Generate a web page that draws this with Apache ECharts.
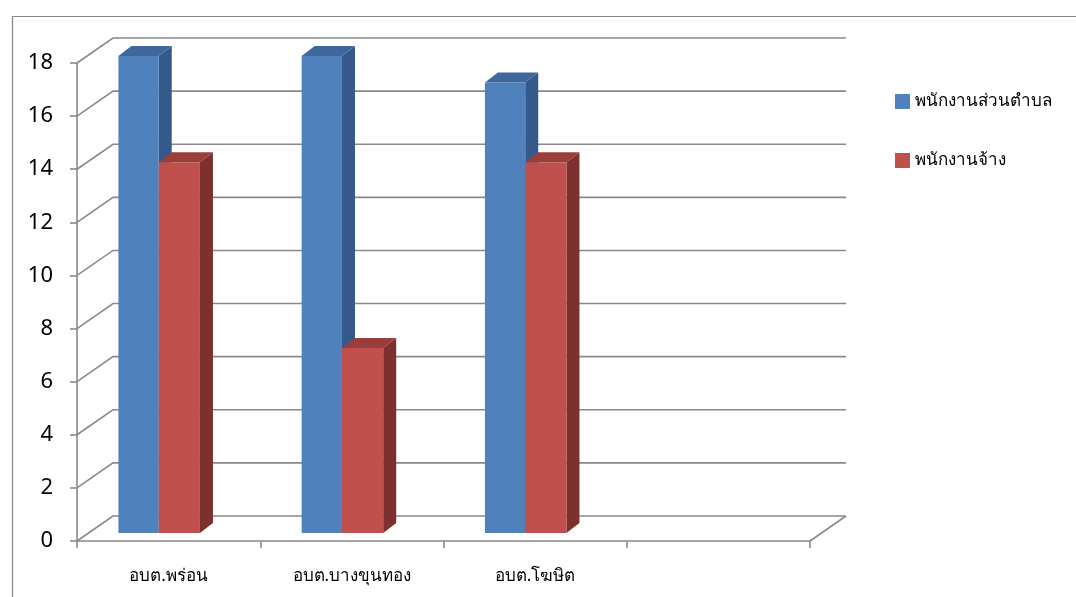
<!DOCTYPE html>
<html>
<head>
<meta charset="utf-8">
<script src="https://cdn.jsdelivr.net/npm/echarts@6/dist/echarts.min.js"></script>
<style>html,body{margin:0;padding:0;background:#fff;}#c{width:1076px;height:597px;}</style>
</head>
<body>
<div id="c"></div>
<script>
var categories = ['อบต.พร่อน', 'อบต.บางขุนทอง', 'อบต.โฆษิต', ''];
var seriesNames = ['พนักงานส่วนตำบล', 'พนักงานจ้าง'];
var staffValues = [18, 18, 17];
var contractValues = [14, 7, 14];
var yTicks = [0, 2, 4, 6, 8, 10, 12, 14, 16, 18];

var GRID = '#898989';
var DEPTH_X = 36, DEPTH_Y = -25;   // floor/back-wall offset
var BAR_SHIFT_Y = -8;              // bars sit slightly behind front plane
var BAR_DX = 13, BAR_DY = -10;     // bar depth
var FONT = '"Noto Sans", "DejaVu Sans", sans-serif';

var chart = echarts.init(document.getElementById('c'), null, {renderer: 'canvas'});

function gridItem(params, api) {
  var v = api.value(0);
  var p = api.coord([0, v]);
  var bw = api.size([1, 0])[0];
  var L = p[0] - bw / 2;
  var R = api.coord([categories.length - 1, v])[0] + bw / 2;
  var y = p[1];
  var children = [{
    type: 'polyline',
    shape: {points: [[L, y], [L + DEPTH_X, y + DEPTH_Y], [R + DEPTH_X, y + DEPTH_Y]]},
    style: {stroke: GRID, lineWidth: 1.6, fill: null}
  }];
  if (v === 0) {
    children.push({
      type: 'line',
      shape: {x1: R, y1: y, x2: R + DEPTH_X, y2: y + DEPTH_Y},
      style: {stroke: GRID, lineWidth: 1.6}
    });
  }
  return {type: 'group', children: children};
}

function barRenderer(f0, f1, front, top, side) {
  return function (params, api) {
    var idx = api.value(0);
    var v = api.value(1);
    var base = api.coord([idx, 0]);
    var pv = api.coord([idx, v]);
    var bw = api.size([1, 0])[0];
    var x0 = base[0] + f0 * bw;
    var x1 = base[0] + f1 * bw;
    var bottom = base[1] + BAR_SHIFT_Y;
    var tp = pv[1] + BAR_SHIFT_Y + 1;
    return {
      type: 'group',
      children: [
        {type: 'polygon', shape: {points: [[x1, tp], [x1 + BAR_DX, tp + BAR_DY], [x1 + BAR_DX, bottom + BAR_DY], [x1, bottom]]}, style: {fill: side}},
        {type: 'polygon', shape: {points: [[x0, tp], [x0 + BAR_DX, tp + BAR_DY], [x1 + BAR_DX, tp + BAR_DY], [x1, tp]]}, style: {fill: top}},
        {type: 'rect', shape: {x: x0, y: tp, width: x1 - x0, height: bottom - tp}, style: {fill: front}}
      ]
    };
  };
}

chart.setOption({
  animation: false,
  graphic: [{
    type: 'rect', left: 10, top: 14, z: -10,
    shape: {width: 1100, height: 620},
    style: {fill: null, stroke: '#878787', lineWidth: 1.2}
  }],
  legend: {
    orient: 'vertical',
    left: 890,
    top: 88,
    itemWidth: 15,
    itemHeight: 15,
    itemGap: 42,
    icon: 'rect',
    data: seriesNames,
    textStyle: {fontFamily: FONT, fontSize: 17, color: '#000'}
  },
  grid: {left: 77, right: 266, top: 63, bottom: 56, containLabel: false},
  xAxis: {
    type: 'category',
    data: categories,
    axisLine: {show: true, lineStyle: {color: GRID, width: 1.6}},
    axisTick: {show: true, alignWithLabel: false, length: 7, lineStyle: {color: GRID, width: 1.6}},
    axisLabel: {fontFamily: FONT, fontSize: 17, color: '#000', margin: 27, interval: 0},
    splitLine: {show: false}
  },
  yAxis: {
    type: 'value',
    min: 0, max: 18, interval: 2,
    axisLine: {show: true, lineStyle: {color: GRID, width: 1.6}},
    axisTick: {show: true, length: 7, lineStyle: {color: GRID, width: 1.6}},
    axisLabel: {fontFamily: FONT, fontSize: 22, color: '#000', margin: 24},
    splitLine: {show: false}
  },
  series: [
    {
      type: 'custom', name: 'grid3d', silent: true, z: 1,
      data: yTicks.map(function (v) { return [v]; }),
      encode: {y: 0},
      renderItem: gridItem
    },
    {
      type: 'custom', name: seriesNames[0], z: 2,
      itemStyle: {color: '#4F81BD'},
      data: staffValues.map(function (v, i) { return [i, v]; }),
      encode: {x: 0, y: 1},
      renderItem: barRenderer(-0.274, -0.054, '#4F81BD', '#3F679B', '#34598A')
    },
    {
      type: 'custom', name: seriesNames[1], z: 3,
      itemStyle: {color: '#C0504D'},
      data: contractValues.map(function (v, i) { return [i, v]; }),
      encode: {x: 0, y: 1},
      renderItem: barRenderer(-0.054, 0.171, '#C0504D', '#9A3E3B', '#7D302E')
    }
  ]
});
</script>
</body>
</html>
